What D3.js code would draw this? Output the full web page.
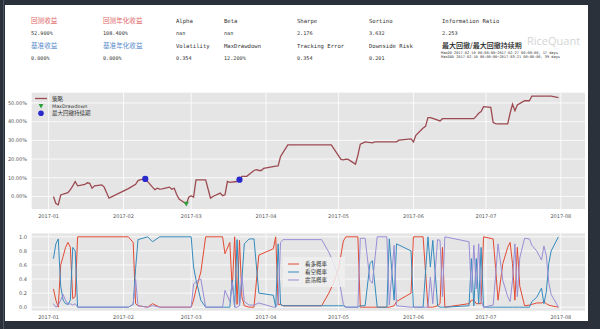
<!DOCTYPE html>
<html><head><meta charset="utf-8">
<script src="https://cdn.jsdelivr.net/npm/d3@7"></script>
<style>
html,body{margin:0;padding:0;background:#2b313b;}
svg{display:block;}
</style></head>
<body>
<svg id="c" width="600" height="329"></svg>
<script>
// ---------- data ----------
const metricRow1Labels = ["回测收益","回测年化收益","Alpha","Beta","Sharpe","Sortino","Information Ratio"];
const metricRow1Values = ["52.900%","108.400%","nan","nan","2.176","3.632","2.253"];
const metricRow2Labels = ["基准收益","基准年化收益","Volatility","MaxDrawdown","Tracking Error","Downside Risk"];
const metricRow2Values = ["0.000%","0.000%","0.354","12.200%","0.354","0.201"];
const ddTitle = "最大回撤/最大回撤持续期";
const ddLines = ["MaxDD  2017-02-10 00:00:00~2017-02-27 00:00:00, 17 days",
                 "MaxDDD 2017-02-10 00:00:00~2017-03-21 00:00:00, 39 days"];

const navDates = ["2017-01-03","2017-01-04","2017-01-05","2017-01-06","2017-01-09","2017-01-10","2017-01-11","2017-01-12","2017-01-13","2017-01-16","2017-01-17","2017-01-18","2017-01-19","2017-01-20","2017-01-23","2017-01-24","2017-01-26","2017-02-03","2017-02-06","2017-02-07","2017-02-08","2017-02-09","2017-02-10","2017-02-13","2017-02-14","2017-02-15","2017-02-16","2017-02-17","2017-02-20","2017-02-21","2017-02-22","2017-02-23","2017-02-24","2017-02-27","2017-02-28","2017-03-01","2017-03-02","2017-03-03","2017-03-06","2017-03-07","2017-03-08","2017-03-09","2017-03-10","2017-03-13","2017-03-14","2017-03-15","2017-03-16","2017-03-17","2017-03-20","2017-03-21","2017-03-22","2017-03-23","2017-03-24","2017-03-27","2017-03-28","2017-03-29","2017-03-30","2017-03-31","2017-04-05","2017-04-06","2017-04-07","2017-04-10","2017-04-28","2017-05-02","2017-05-03","2017-05-04","2017-05-05","2017-05-08","2017-05-09","2017-05-10","2017-05-11","2017-05-12","2017-05-15","2017-05-16","2017-05-25","2017-05-26","2017-05-31","2017-06-01","2017-06-02","2017-06-05","2017-06-06","2017-06-07","2017-06-08","2017-06-09","2017-06-12","2017-06-13","2017-06-26","2017-06-27","2017-06-28","2017-06-29","2017-06-30","2017-07-03","2017-07-04","2017-07-05","2017-07-06","2017-07-10","2017-07-11","2017-07-12","2017-07-13","2017-07-14","2017-07-17","2017-07-19","2017-07-20","2017-07-28","2017-07-31"];
const navValues = [0,-3.8,-4.5,0.8,2.0,3.6,5.7,8.0,5.7,6.4,7.3,7.0,4.4,5.7,6.2,5.0,-0.9,4.2,6.5,8.5,9.0,9.2,9.4,5.0,3.6,4.4,3.9,4.1,5.0,3.9,4.4,1.0,-1.4,-4.0,-0.4,0.4,-0.4,8.9,8.9,8.9,4.0,-0.9,0.0,1.8,0.4,0.9,8.0,7.5,8.0,9.0,10.7,10.7,10.8,13.9,14.3,13.9,13.9,15.0,16.2,16.4,21.4,27.6,27.6,19.8,19.6,20.0,19.8,17.3,22.0,28.0,28.5,29.2,28.7,29.2,29.2,30.1,30.8,29.2,32.7,36.6,37.5,42.2,42.2,41.8,40.4,41.6,41.6,43.0,44.5,45.4,48.0,47.7,39.5,39.0,38.8,38.8,44.5,49.4,45.9,48.9,51.2,51.2,53.7,53.7,52.9];

const maxDDDates = ["2017-02-10","2017-02-27"];
const maxDDDDates = ["2017-02-10","2017-03-21"];

const probDates = ["2017-01-03","2017-01-04","2017-01-05","2017-01-06","2017-01-07","2017-01-08","2017-01-09","2017-01-10","2017-01-11","2017-01-12","2017-01-13","2017-02-03","2017-02-05","2017-02-06","2017-02-07","2017-02-11","2017-02-13","2017-02-16","2017-03-01","2017-03-02","2017-03-03","2017-03-05","2017-03-07","2017-03-14","2017-03-15","2017-03-17","2017-03-18","2017-03-19","2017-03-20","2017-03-21","2017-03-22","2017-03-23","2017-03-25","2017-03-27","2017-03-29","2017-04-04","2017-04-05","2017-04-06","2017-04-07","2017-04-08","2017-04-24","2017-04-27","2017-04-29","2017-05-01","2017-05-03","2017-05-04","2017-05-09","2017-05-10","2017-05-12","2017-05-14","2017-05-15","2017-05-17","2017-05-21","2017-05-22","2017-05-24","2017-05-25","2017-05-31","2017-06-01","2017-06-05","2017-06-07","2017-06-08","2017-06-09","2017-06-11","2017-06-12","2017-06-13","2017-06-14","2017-06-24","2017-06-25","2017-06-26","2017-06-27","2017-06-28","2017-06-29","2017-06-30","2017-07-04","2017-07-05","2017-07-06","2017-07-08","2017-07-10","2017-07-11","2017-07-12","2017-07-13","2017-07-14","2017-07-15","2017-07-17","2017-07-19","2017-07-20","2017-07-22","2017-07-24","2017-07-25","2017-07-26","2017-07-27","2017-07-28","2017-07-31"];
const bullProb  = [.26,.10,.00,.60,.72,.85,.92,.85,.12,.15,1,1,.92,.05,.02,0,.05,0,0,.10,.25,.50,1,1,.76,.92,.25,1,.04,.95,.15,.02,0,0,.74,.83,1,.04,.04,.02,.02,.20,.35,.55,.94,1,1,0,0,0,0,0,0,0,.02,.08,.20,1,1,0,0,0,.02,.05,.85,0,.05,.10,.10,.05,.05,.05,1,.97,.55,.10,.62,.85,.92,.62,.10,.85,.30,.02,.03,.04,.06,.06,.08,.05,.03,.02,0];
const bearProb  = [.69,.90,.97,.30,.10,.05,.04,.10,.85,.80,0,0,.04,.55,.96,1,.93,1,1,.57,.39,.10,0,0,0,0,.39,0,.96,.03,.40,.90,.97,.97,.20,.17,0,.90,.04,.02,.02,.02,.02,.02,.02,0,0,.02,.02,.62,.66,0,0,.97,.10,.90,.80,0,0,1,.57,.95,.02,0,0,0,.02,.69,.02,.69,.05,.85,0,0,0,0,0,0,0,0,0,0,0,0,0,.08,.14,.27,.05,.22,.62,.80,1];
const rangeProb = [.05,.00,.03,.10,.18,.10,.04,.05,.03,.05,0,0,.04,.40,.02,0,.02,0,0,.33,.36,.40,0,0,.24,.08,.36,0,0,.02,.45,.08,.03,.03,.06,0,0,.06,.92,.96,.96,.78,.62,.43,.04,0,0,.98,.98,.38,.34,1,1,.03,.88,.02,0,0,0,0,.43,.05,.96,.95,.15,1,.93,.21,.88,.26,.90,.10,0,.03,.45,.90,.38,.15,.08,.38,.90,.15,.70,.98,.97,.88,.80,.67,.87,.73,.35,.18,0];
const probNames = ["看多概率","看空概率","震荡概率"];
const probColors = ["#E24A33","#348ABD","#988ED5"];

const topTicks = [0,10,20,30,40,50];
const botTicks = [0,0.2,0.4,0.6,0.8,1.0];

// ---------- drawing ----------
const svg = d3.select("#c");
const parse = d3.timeParse("%Y-%m-%d");
const CJK = "'Noto Sans CJK SC', sans-serif";
const MONO = "'DejaVu Sans Mono', monospace";
const SANS = "'DejaVu Sans', sans-serif";

svg.append("rect").attr("x",5).attr("y",5).attr("width",583).attr("height",316).attr("fill","#ffffff");
svg.append("line").attr("x1",3.5).attr("x2",3.5).attr("y1",0).attr("y2",329).attr("stroke","#4a5360").attr("stroke-width",1);

// metrics
const colX = [31,103,176,224,297,369,442];
function isCJK(s){return /[\u4e00-\u9fff]/.test(s);}
metricRow1Labels.forEach((t,i)=>{
  svg.append("text").attr("x",colX[i]).attr("y",22.5).text(t)
    .attr("font-family",isCJK(t)?CJK:MONO).attr("font-size",isCJK(t)?6.6:5.6)
    .attr("fill", i<2 ? "#e06a6a" : "#333");
});
metricRow1Values.forEach((t,i)=>{
  svg.append("text").attr("x",colX[i]).attr("y",34.5).text(t)
    .attr("font-family",MONO).attr("font-size",5.2).attr("fill","#333");
});
metricRow2Labels.forEach((t,i)=>{
  svg.append("text").attr("x",colX[i]).attr("y",48).text(t)
    .attr("font-family",isCJK(t)?CJK:MONO).attr("font-size",isCJK(t)?6.6:5.6)
    .attr("fill", i<2 ? "#5a8ccc" : "#333");
});
metricRow2Values.forEach((t,i)=>{
  svg.append("text").attr("x",colX[i]).attr("y",60).text(t)
    .attr("font-family",MONO).attr("font-size",5.2).attr("fill","#333");
});
svg.append("text").attr("x",442).attr("y",48).text(ddTitle)
  .attr("font-family",CJK).attr("font-size",7).attr("font-weight","500").attr("fill","#222");
ddLines.forEach((t,i)=>{
  svg.append("text").attr("x",441).attr("y",53.8+i*4.2).text(t)
    .attr("font-family",MONO).attr("font-size",3.6).attr("fill","#333");
});
svg.append("text").attr("x",527).attr("y",45).text("RiceQuant")
  .attr("font-family","'Open Sans', sans-serif").attr("font-size",11).attr("fill","#d4d4d4");

// scales
const x = d3.scaleTime().domain([new Date(2016,11,25), new Date(2017,7,11)]).range([31.7,585]);
const yTop = d3.scaleLinear().domain([-6.7,55.5]).range([209,92.7]);
const yBot = d3.scaleLinear().domain([-0.05,1.05]).range([310.7,233.3]);
const monthTicks = d3.timeMonth.range(new Date(2017,0,1), new Date(2017,7,2));
const fmtMonth = d3.timeFormat("%Y-%m");

function panel(y, ticks, fmt, labelY){
  const [y0,y1] = y.range();
  const g = svg.append("g");
  g.append("rect").attr("x",31.7).attr("y",y1).attr("width",585-31.7).attr("height",y0-y1).attr("fill","#e5e5e5");
  g.selectAll(".hg").data(ticks).join("line")
    .attr("x1",31.7).attr("x2",585).attr("y1",d=>y(d)).attr("y2",d=>y(d))
    .attr("stroke","#fff").attr("stroke-width",0.8);
  g.selectAll(".vg").data(monthTicks).join("line")
    .attr("x1",d=>x(d)).attr("x2",d=>x(d)).attr("y1",y1).attr("y2",y0)
    .attr("stroke","#fff").attr("stroke-width",0.8);
  g.selectAll(".yl").data(ticks).join("text")
    .attr("x",27).attr("y",d=>y(d)+1.8).attr("text-anchor","end").text(fmt)
    .attr("font-family",SANS).attr("font-size",5).attr("fill","#555");
  g.selectAll(".xl").data(monthTicks).join("text")
    .attr("x",d=>x(d)).attr("y",labelY).attr("text-anchor","middle").text(fmtMonth)
    .attr("font-family",SANS).attr("font-size",5).attr("fill","#555");
}
panel(yTop, topTicks, d=>d.toFixed(2)+"%", 217.5);
panel(yBot, botTicks, d=>d.toFixed(1), 318.5);

// top line
const nav = navDates.map((d,i)=>({date:parse(d), v:navValues[i]}));
svg.append("path").datum(nav)
  .attr("d", d3.line().x(d=>x(d.date)).y(d=>yTop(d.v)))
  .attr("fill","none").attr("stroke","#9c4a52").attr("stroke-width",1.3);
const navLookup = new Map(navDates.map((d,i)=>[d,navValues[i]]));
function tri(cx,cy,s){return `M${cx-s},${cy-s*0.8}L${cx+s},${cy-s*0.8}L${cx},${cy+s}Z`;}
maxDDDates.forEach(d=>{
  svg.append("path").attr("d",tri(x(parse(d)),yTop(navLookup.get(d)),2.6)).attr("fill","#2e9e3a");
});
maxDDDDates.forEach(d=>{
  svg.append("circle").attr("cx",x(parse(d))).attr("cy",yTop(navLookup.get(d))).attr("r",3.1)
    .attr("fill","#2a2acc");
});
// top legend
svg.append("line").attr("x1",35).attr("x2",47).attr("y1",98.5).attr("y2",98.5).attr("stroke","#9c4a52").attr("stroke-width",1.3);
svg.append("text").attr("x",52).attr("y",100.5).text("策略").attr("font-family",CJK).attr("font-size",5.5).attr("fill","#333");
svg.append("path").attr("d",tri(41,106,2.4)).attr("fill","#2e9e3a");
svg.append("text").attr("x",52).attr("y",107.8).text("MaxDrawdown").attr("font-family",SANS).attr("font-size",4.8).attr("fill","#333");
svg.append("circle").attr("cx",41).attr("cy",113.3).attr("r",2.8).attr("fill","#2a2acc");
svg.append("text").attr("x",52).attr("y",115.3).text("最大回撤持续期").attr("font-family",CJK).attr("font-size",5.5).attr("fill","#333");

// bottom lines
const probSeries = [bullProb, bearProb, rangeProb];
probSeries.forEach((vals,k)=>{
  const pts = probDates.map((d,i)=>({date:parse(d), v:vals[i]}));
  svg.append("path").datum(pts)
    .attr("d", d3.line().x(d=>x(d.date)).y(d=>yBot(d.v)))
    .attr("fill","none").attr("stroke",probColors[k]).attr("stroke-width",1);
});
// bottom legend
svg.append("rect").attr("x",283).attr("y",257).attr("width",62).attr("height",30).attr("fill","#f0f0f0").attr("opacity",0.85).attr("rx",1);
probNames.forEach((n,k)=>{
  const yy = 264 + k*8;
  svg.append("line").attr("x1",288).attr("x2",299).attr("y1",yy).attr("y2",yy).attr("stroke",probColors[k]).attr("stroke-width",1);
  svg.append("text").attr("x",305).attr("y",yy+2).text(n).attr("font-family",CJK).attr("font-size",5.5).attr("fill","#333");
});
</script>
</body></html>
